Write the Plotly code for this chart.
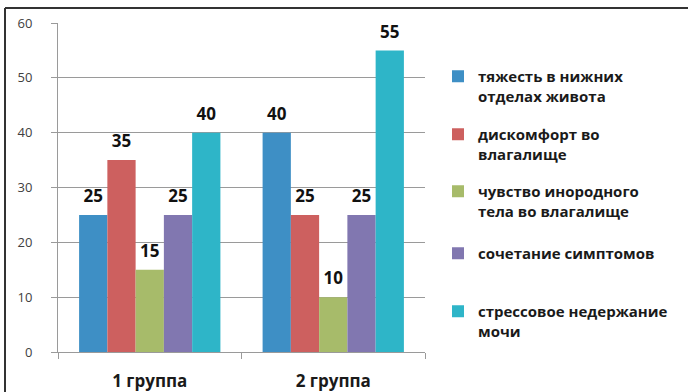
import plotly.graph_objects as go

categories = ["1 группа", "2 группа"]
series_names = [
    "тяжесть в нижних<br>отделах живота",
    "дискомфорт во<br>влагалище",
    "чувство инородного<br>тела во влагалище",
    "сочетание симптомов",
    "стрессовое недержание<br>мочи",
]
series_values = [
    [25, 40],
    [35, 25],
    [15, 10],
    [25, 25],
    [40, 55],
]
colors = ["#3E8FC5", "#CD605F", "#A7BB6A", "#8177B0", "#2EB5C8"]
y_ticks = [0, 10, 20, 30, 40, 50, 60]

W, H = 688, 392
L, R, T, B = 58, 425, 23, 352
FONT = "Open Sans"
GAP = 0.23

fig = go.Figure()
legend_tops = [60, 118, 175, 237, 295]
legend_names = ["legend", "legend2", "legend3", "legend4", "legend5"]
for i, (name, vals, col) in enumerate(zip(series_names, series_values, colors)):
    fig.add_trace(go.Bar(
        x=categories, y=vals, name=name,
        marker=dict(color=col, line=dict(width=0)),
        legend=legend_names[i],
        offsetgroup=str(i),
        hoverinfo="skip",
    ))
for i, vals in enumerate(series_values):
    fig.add_trace(go.Scatter(
        x=categories, y=vals, mode="markers+text",
        text=[str(v) for v in vals], textposition="top center",
        textfont=dict(family=FONT, size=17, color="#111111", weight="bold"),
        marker=dict(size=12, opacity=0),
        cliponaxis=False, showlegend=False, hoverinfo="skip",
        offsetgroup=str(i),
    ))

pw = R - L
ph = B - T
layout_legends = {}
for i, ln in enumerate(legend_names):
    layout_legends[ln] = dict(
        x=(438 - L) / pw, xanchor="left",
        y=(B - legend_tops[i]) / ph, yanchor="top",
        font=dict(family=FONT, size=15, color="#1a1a1a", weight="bold"),
        bgcolor="rgba(0,0,0,0)", valign="top", itemwidth=30,
        itemclick=False, itemdoubleclick=False,
    )

fig.update_layout(
    width=W, height=H,
    margin=dict(l=L, r=W - R, t=T, b=H - B, autoexpand=False),
    paper_bgcolor="white", plot_bgcolor="white",
    barmode="group", bargap=GAP, bargroupgap=0,
    scattermode="group", scattergap=GAP,
    showlegend=True,
    **layout_legends,
)
fig.update_xaxes(
    type="category", tickson="boundaries", ticks="outside", ticklen=6,
    tickcolor="#9a9a9a", showline=True, linecolor="#9a9a9a", linewidth=1,
    showgrid=False,
    tickfont=dict(family=FONT, size=17, color="#1a1a1a", weight="bold"),
    ticklabelstandoff=14,
)
fig.update_yaxes(
    range=[0, 60], tickvals=y_ticks, ticks="outside", ticklen=6,
    tickcolor="#9a9a9a", showline=True, linecolor="#9a9a9a", linewidth=1,
    showgrid=True, gridcolor="#9a9a9a", gridwidth=1, zeroline=False,
    tickfont=dict(family=FONT, size=13, color="#404040"),
    ticklabelstandoff=16,
)
# frame border (top and left)
fig.add_shape(type="line", xref="paper", yref="paper",
              x0=(5 - L) / pw, x1=(W - L) / pw + 0.01,
              y0=1 + (T - 8) / ph, y1=1 + (T - 8) / ph,
              line=dict(color="#333333", width=2))
fig.add_shape(type="line", xref="paper", yref="paper",
              x0=(5 - L) / pw, x1=(5 - L) / pw,
              y0=1 + (T - 8) / ph, y1=(B - H - 5) / ph,
              line=dict(color="#333333", width=2))

fig.write_html("out.html")
